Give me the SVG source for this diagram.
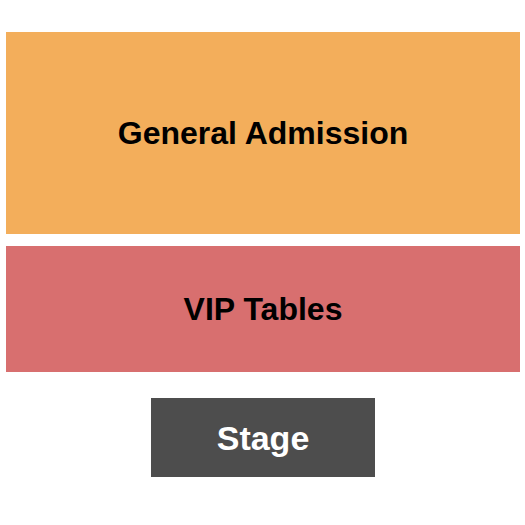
<svg xmlns="http://www.w3.org/2000/svg" width="525" height="525" viewBox="0 0 525 525">
<style>
text{font-family:"Liberation Sans",Arial,sans-serif;font-weight:bold;font-size:32px;text-anchor:middle}
</style>
<rect width="525" height="525" fill="#fff"/>
<g id="general-admission">
<rect x="6" y="32" width="514" height="202" fill="#F3AE5B"/>
<text x="263" y="144" fill="#000">General Admission</text>
</g>
<g id="vip-tables">
<rect x="6" y="246" width="514" height="126" fill="#D86F6F"/>
<text x="263" y="320" fill="#000">VIP Tables</text>
</g>
<g id="stage">
<rect x="151" y="398" width="224" height="79" fill="#4D4D4D"/>
<text x="263" y="450" fill="#fff" style="font-size:34px">Stage</text>
</g>
<g id="connectors"/>
</svg>
